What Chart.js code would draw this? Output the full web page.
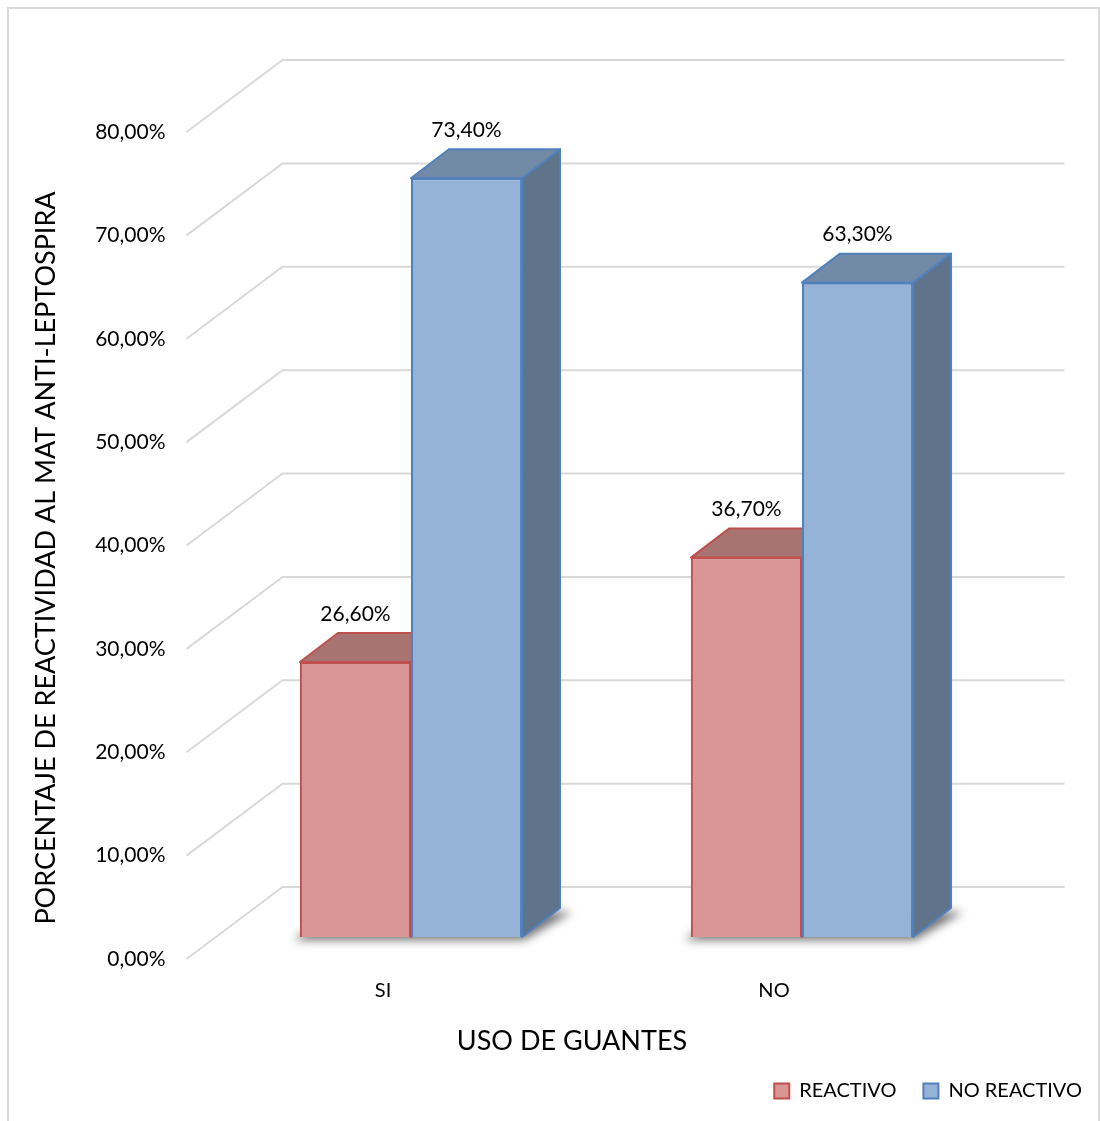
<!DOCTYPE html>
<html lang="es">
<head>
<meta charset="utf-8">
<title>Uso de guantes</title>
<script src="https://cdn.jsdelivr.net/npm/chart.js@4.4.1/dist/chart.umd.min.js"></script>
<style>
    html, body { margin: 0; padding: 0; background: #fff; }
    #wrap { position: relative; width: 1100px; height: 1121px; }
</style>
</head>
<body>
<div id="wrap">
    <canvas id="guantesChart" width="1100" height="1121"></canvas>
</div>
<script>
// --- Data ---
const categorias = ['SI', 'NO'];
const reactivo = [26.6, 36.7];
const noReactivo = [73.4, 63.3];
const yTicks = [0, 10, 20, 30, 40, 50, 60, 70, 80];

const FONT = "Lato, 'Open Sans', sans-serif";
const GRID = '#d9d9d9';

// bar depth and wall depth (px)
const BAR_DX = 38, BAR_DY = 29;
const WALL_FRONT_X = -29, WALL_BACK_X = 67;
const WALL_FRONT_Y = 22, WALL_BACK_Y = -50;

const pct = v => v.toFixed(2).replace('.', ',') + '%';

function shade(hex, f) {
    const n = parseInt(hex.slice(1), 16);
    const r = Math.round(((n >> 16) & 255) * f);
    const g = Math.round(((n >> 8) & 255) * f);
    const b = Math.round((n & 255) * f);
    return `rgb(${r},${g},${b})`;
}

function poly(ctx, pts, fill, stroke) {
    ctx.beginPath();
    ctx.moveTo(pts[0][0], pts[0][1]);
    for (let i = 1; i < pts.length; i++) ctx.lineTo(pts[i][0], pts[i][1]);
    ctx.closePath();
    if (fill) { ctx.fillStyle = fill; ctx.fill(); }
    if (stroke) { ctx.strokeStyle = stroke; ctx.lineWidth = 2; ctx.lineJoin = 'round'; ctx.stroke(); }
}

// Walls, floor shadow and the top/side faces of every bar
const bars3d = {
    id: 'bars3d',
    beforeDraw(chart) {
        const ctx = chart.ctx;
        ctx.save();
        ctx.strokeStyle = GRID;
        ctx.lineWidth = 2;
        ctx.strokeRect(8, 8, 1091, 1140);
        ctx.restore();
    },
    beforeDatasetsDraw(chart) {
        const ctx = chart.ctx;
        const {left, right} = chart.chartArea;
        const y = chart.scales.y;
        ctx.save();
        ctx.strokeStyle = GRID;
        ctx.lineWidth = 2;
        yTicks.forEach(v => {
            const py = y.getPixelForValue(v);
            ctx.beginPath();
            ctx.moveTo(left + WALL_FRONT_X, py + WALL_FRONT_Y);
            ctx.lineTo(left + WALL_BACK_X, py + WALL_BACK_Y);
            ctx.lineTo(right + WALL_BACK_X, py + WALL_BACK_Y);
            ctx.stroke();
        });

        // soft shadow on the floor behind each group
        const m0 = chart.getDatasetMeta(0).data;
        const m1 = chart.getDatasetMeta(1).data;
        ctx.filter = 'blur(5px)';
        m0.forEach((b0, i) => {
            const b1 = m1[i];
            const xl = b0.x - b0.width / 2, xr = b1.x + b1.width / 2, base = b0.base;
            poly(ctx, [[xl - 6, base + 3], [xr + 2, base + 3], [xr + BAR_DX + 12, base - BAR_DY + 4], [xl + BAR_DX, base - BAR_DY]], 'rgba(0,0,0,0.55)');
        });
        ctx.filter = 'none';

        chart.data.datasets.forEach((ds, di) => {
            chart.getDatasetMeta(di).data.forEach(b => {
                const xl = b.x - b.width / 2, xr = b.x + b.width / 2;
                poly(ctx, [[xr, b.y], [xr + BAR_DX, b.y - BAR_DY], [xr + BAR_DX, b.base - BAR_DY], [xr, b.base]], shade(ds.backgroundColor, 0.64), ds.borderColor);
                poly(ctx, [[xl, b.y], [xl + BAR_DX, b.y - BAR_DY], [xr + BAR_DX, b.y - BAR_DY], [xr, b.y]], shade(ds.backgroundColor, 0.77), ds.borderColor);
            });
        });
        ctx.restore();
    },
    afterDatasetsDraw(chart) {
        const ctx = chart.ctx;
        ctx.save();
        ctx.fillStyle = '#000';
        ctx.font = `21px ${FONT}`;
        ctx.textAlign = 'center';
        ctx.textBaseline = 'middle';
        chart.data.datasets.forEach((ds, di) => {
            chart.getDatasetMeta(di).data.forEach((b, i) => {
                ctx.fillText(pct(ds.data[i]), b.x, b.y - 48);
            });
        });

        // axis titles
        ctx.font = `27px ${FONT}`;
        ctx.fillText('USO DE GUANTES', 572, 1041);
        ctx.translate(46, 558);
        ctx.rotate(-Math.PI / 2);
        ctx.fillText('PORCENTAJE DE REACTIVIDAD AL MAT ANTI-LEPTOSPIRA', 0, 0);
        ctx.restore();
    }
};

const ctx = document.getElementById('guantesChart').getContext('2d');
const chart = new Chart(ctx, {
    type: 'bar',
    data: {
        labels: categorias,
        datasets: [{
            label: 'REACTIVO',
            data: reactivo,
            backgroundColor: '#D99694',
            borderColor: '#C0504D',
            borderWidth: 2
        }, {
            label: 'NO REACTIVO',
            data: noReactivo,
            backgroundColor: '#95B3D7',
            borderColor: '#4F81BD',
            borderWidth: 2
        }]
    },
    options: {
        responsive: false,
        animation: false,
        layout: {
            padding: { top: 110, left: 0, right: -9, bottom: 10 }
        },
        categoryPercentage: 0.568,
        barPercentage: 1.0,
        scales: {
            x: {
                grid: { display: false, drawTicks: false },
                border: { display: false },
                ticks: {
                    color: '#000',
                    font: { family: FONT, size: 20 },
                    padding: 42,
                    labelOffset: -28
                },
                afterFit: s => { s.height = 117; }
            },
            y: {
                min: 0,
                max: 80,
                grid: { display: false, drawTicks: false },
                border: { display: false },
                ticks: {
                    stepSize: 10,
                    color: '#000',
                    font: { family: FONT, size: 21 },
                    padding: 50,
                    labelOffset: 22,
                    callback: v => pct(v)
                },
                afterFit: s => { s.width = 215.5; }
            },
            yRight: {
                type: 'linear',
                position: 'right',
                grid: { display: false, drawTicks: false },
                border: { display: false },
                ticks: { display: false },
                afterFit: s => { s.width = 111.5; }
            }
        },
        plugins: {
            legend: {
                position: 'bottom',
                align: 'end',
                labels: {
                    color: '#000',
                    font: { family: FONT, size: 20 },
                    boxWidth: 15,
                    boxHeight: 15,
                    padding: 27
                }
            },
            tooltip: { enabled: false }
        }
    },
    plugins: [bars3d]
});
</script>
</body>
</html>
